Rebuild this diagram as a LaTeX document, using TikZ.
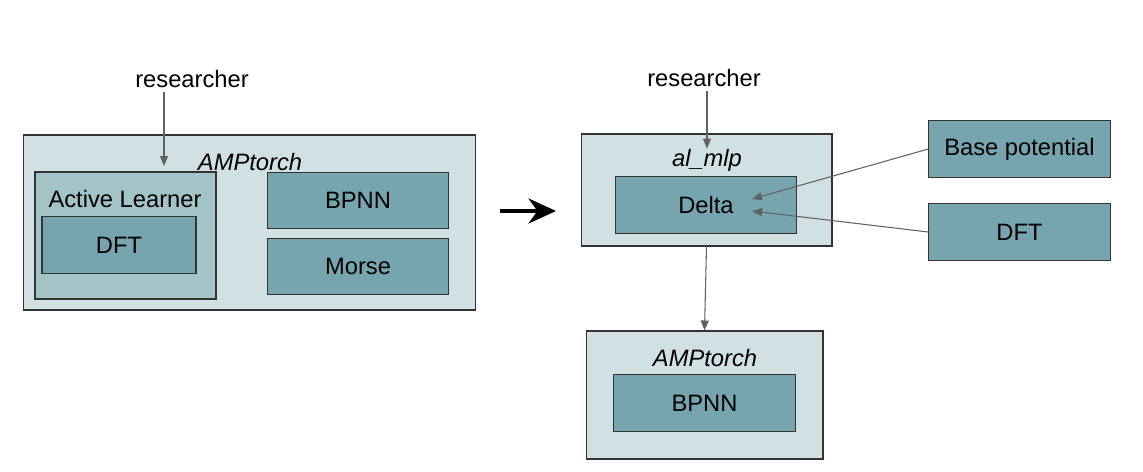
\documentclass[tikz,border=0pt]{standalone}
\usepackage{fontspec}
\setmainfont{Liberation Sans}
\usetikzlibrary{arrows.meta}

\definecolor{boxpale}{HTML}{D0E0E3}
\definecolor{boxmid}{HTML}{A2C4C9}
\definecolor{boxteal}{HTML}{76A5AF}
\definecolor{linkgray}{HTML}{616161}

\begin{document}
\begin{tikzpicture}[x=0.02cm, y=-0.02cm,
    every node/.style={font=\fontsize{13.5}{16}\selectfont, inner sep=0pt},
    box/.style={draw=black!80, line width=0.6pt, rectangle},
    palebox/.style={box, fill=boxpale},
    midbox/.style={box, fill=boxmid},
    tealbox/.style={box, fill=boxteal, minimum width=3.63cm, minimum height=1.13cm},
    link/.style={draw=linkgray, line width=0.6pt, -{Triangle[length=0.2cm, width=0.16cm]}}]
\useasboundingbox (0,0) rectangle (1143,471);

% left: before
\node[palebox, minimum width=9.06cm, minimum height=3.5cm] (amp1) at (249.5,222.5) {};
\node[midbox, minimum width=3.62cm, minimum height=2.54cm] (learner) at (125.5,235.5) {};
\node[tealbox, minimum width=3.08cm] (dft1) at (119,245) {DFT};
\node[tealbox] (bpnn1) at (358,200.5) {BPNN};
\node[tealbox] (morse) at (358,266.5) {Morse};
\node[font=\fontsize{13.5}{16}\selectfont\itshape] (amp1lbl) at (250,162) {AMPtorch};
\node (learnerlbl) at (125,199) {Active Learner};
\node (res1) at (192,79) {researcher};
\coordinate (res1end) at (164,166);
\draw[link] (res1end |- res1.south) ++(0,4) -- (res1end);

% big arrow
\coordinate (bigfrom) at (500,211);
\coordinate (bigto) at (556,211);
\draw[line width=0.08cm, -{Stealth[length=0.55cm, width=0.5cm]}] (bigfrom) -- (bigto);

% right: after
\node[palebox, minimum width=5.02cm, minimum height=2.24cm] (mlp) at (706.5,190) {};
\node[tealbox] (delta) at (706,205) {Delta};
\node[font=\fontsize{13.5}{16}\selectfont\itshape] (mlplbl) at (707,160) {al\_mlp};
\node (res2) at (704,78) {researcher};
\draw[link] (res2.south) ++(3,4) -- (mlplbl.north);

\node[tealbox] (base) at (1019.5,149) {Base potential};
\node[tealbox] (dft2) at (1019.5,232) {DFT};
\coordinate (deltain1) at (752,199);
\coordinate (deltain2) at (752,211);
\draw[link] (base.west) -- (deltain1);
\draw[link] (dft2.west) -- (deltain2);

\node[palebox, minimum width=4.74cm, minimum height=2.56cm] (amp2) at (704.5,395) {};
\node[tealbox] (bpnn2) at (704.5,403) {BPNN};
\node[font=\fontsize{13.5}{16}\selectfont\itshape] (amp2lbl) at (705,358) {AMPtorch};
\draw[link] (mlp.south) -- (amp2.north);
\end{tikzpicture}
\end{document}
